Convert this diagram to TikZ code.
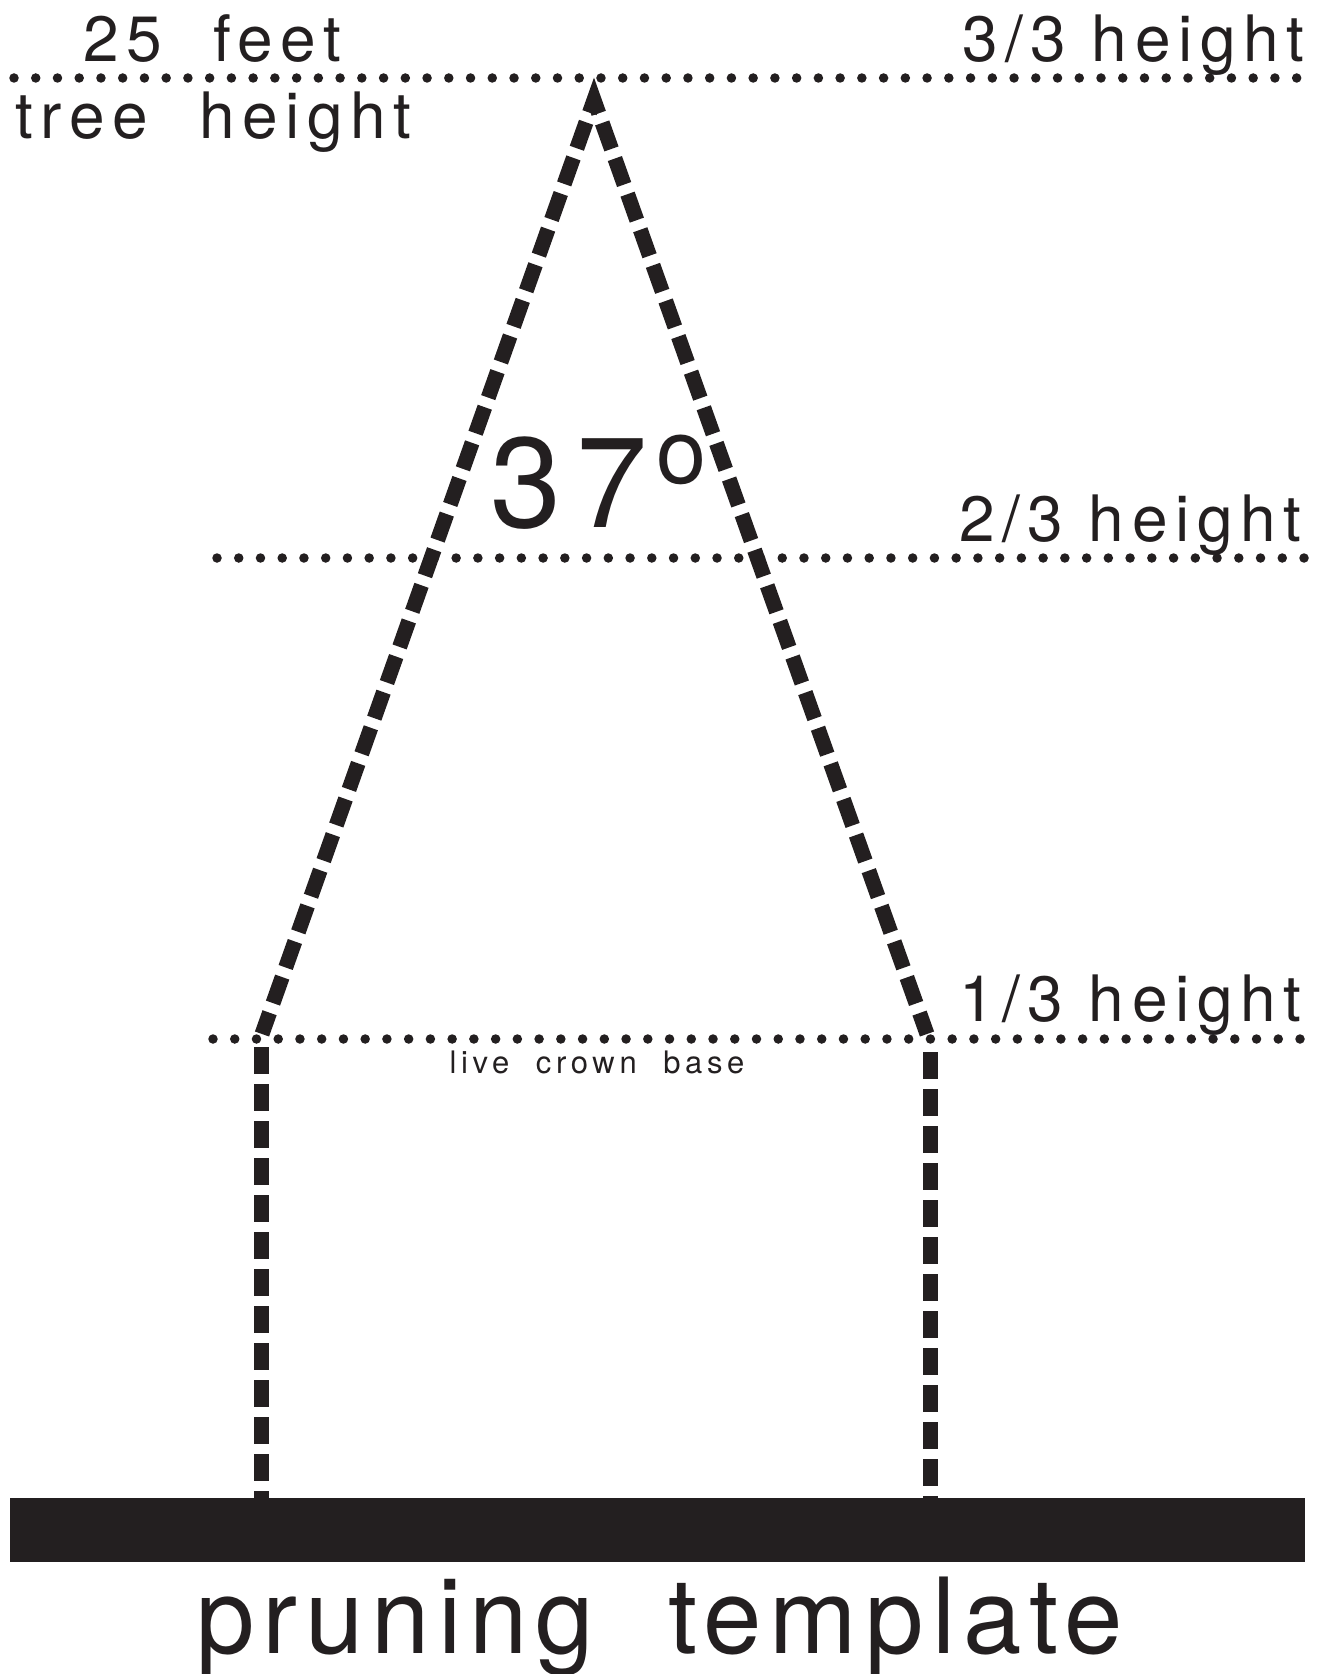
\documentclass[tikz,border=0pt]{standalone}
\usepackage{fontspec}
\setmainfont{TeX Gyre Heros}[LetterSpace=12]
\newfontfamily\titlefont{TeX Gyre Heros}[LetterSpace=7.5]
\newfontfamily\notefont{TeX Gyre Heros}[LetterSpace=15]
\definecolor{ink}{HTML}{231F20}
\tikzset{
  heightline/.style={ink, line width=4.75pt, line cap=round, dash pattern=on 0pt off 10.87pt},
  crown/.style={ink, line width=7.5pt, line join=miter, dash pattern=on 13.8pt off 5.1pt, dash phase=2.5pt},
  trunk/.style={ink, line width=7.5pt, dash pattern=on 13.5pt off 5pt},
  ground/.style={fill=ink},
  tag/.style={text=ink, inner sep=0pt, font=\fontsize{32pt}{32pt}\selectfont},
  note/.style={text=ink, inner sep=0pt, font=\notefont\fontsize{15.5pt}{15.5pt}\selectfont},
  angle/.style={text=ink, inner sep=0pt, font=\fontsize{64pt}{64pt}\selectfont},
  title/.style={text=ink, inner sep=0pt, font=\titlefont\fontsize{52.5pt}{52.5pt}\selectfont},
}
\begin{document}
\begin{tikzpicture}[x=0.5pt,y=-0.5pt]
  \useasboundingbox (0,0) rectangle (1323,1674);
  % height lines
  \coordinate (top w) at (14,78);
  \coordinate (top e) at (1298,78);
  \coordinate (two w) at (217,558);
  \coordinate (two e) at (1305,558);
  \coordinate (one w) at (213,1039);
  \coordinate (one e) at (1301,1039);
  \draw[heightline] (top w) -- (top e);
  \draw[heightline] (two w) -- (two e);
  \draw[heightline] (one w) -- (one e);
  % crown
  \coordinate (apex) at (594,100);
  \coordinate (crown l) at (262,1034);
  \coordinate (crown r) at (927,1034);
  \draw[crown] (crown l) -- (apex) -- (crown r);
  % trunk
  \coordinate (trunk l) at (261,1047);
  \coordinate (trunk r) at (930,1052);
  \coordinate (ground l) at (261,1500);
  \coordinate (ground r) at (930,1500);
  \draw[trunk] (trunk l) -- (ground l);
  \draw[trunk] (trunk r) -- (ground r);
  % ground
  \coordinate (ground nw) at (10,1498);
  \coordinate (ground se) at (1305,1562);
  \fill[ground] (ground nw) rectangle (ground se);
  % labels
  \node[tag,anchor=base west] (feet) at (83,62) {25\ \ feet};
  \node[tag,anchor=base west] (tree) at (15,139) {tree\ \ height};
  \node[tag,anchor=base east] (full) at (1305,62) {3/3 height};
  \node[tag,anchor=base east] (two) at (1302,541) {2/3 height};
  \node[tag,anchor=base east] (one) at (1302,1021) {1/3 height};
  \node[angle,anchor=base west] (deg) at (490,527) {37\hspace{4pt}\raisebox{22pt}{\fontsize{45pt}{45pt}\selectfont o}};
  \node[note,anchor=base] (base) at (597,1073) {live\ \ crown\ \ base};
  \node[title,anchor=base] (name) at (660,1653) {pruning\ \ template};
\end{tikzpicture}
\end{document}
